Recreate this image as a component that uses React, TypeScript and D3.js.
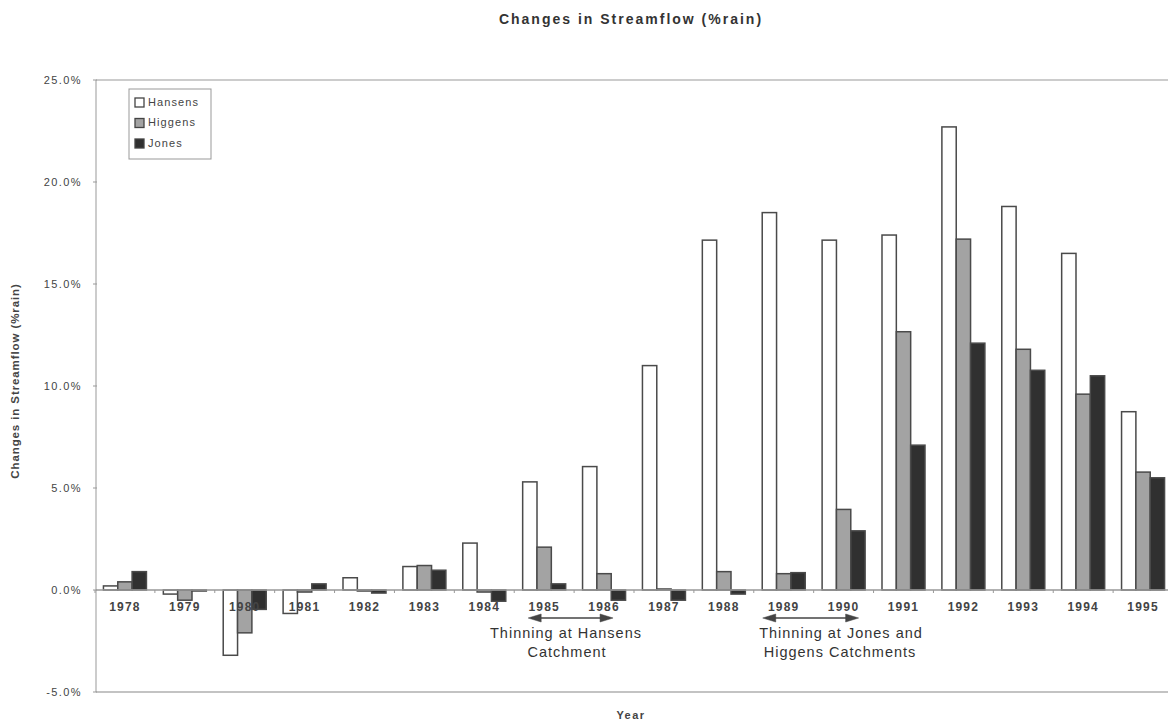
import React from "react";
import * as d3 from "d3";

const years = ["1978","1979","1980","1981","1982","1983","1984","1985","1986","1987","1988","1989","1990","1991","1992","1993","1994","1995"];
const hansens = [0.2,-0.2,-3.2,-1.15,0.6,1.15,2.3,5.3,6.05,11.0,17.15,18.5,17.15,17.4,22.7,18.8,16.5,8.74];
const higgens = [0.4,-0.5,-2.1,-0.1,-0.05,1.2,-0.1,2.1,0.8,0.05,0.9,0.8,3.95,12.66,17.2,11.8,9.6,5.78];
const jones = [0.9,-0.05,-0.95,0.3,-0.15,0.97,-0.55,0.3,-0.5,-0.5,-0.2,0.85,2.9,7.1,12.1,10.77,10.5,5.5];
const seriesNames = ["Hansens","Higgens","Jones"];
const seriesFills = ["#ffffff","#a3a3a3","#303030"];
const yTicks = [-5,0,5,10,15,20,25];

const W = 1168, H = 724;

export default function App() {
  const x = d3.scaleBand<string>().domain(years).range([95, 1173]).paddingInner(0.282).paddingOuter(0.141);
  const xs = d3.scaleBand<string>().domain(seriesNames).range([0, x.bandwidth()]);
  const y = d3.scaleLinear().domain([-5, 25]).range([692, 80]);
  const data = [hansens, higgens, jones];
  const cx = (yr: string) => (x(yr) as number) + x.bandwidth() / 2;
  const step = x.step();
  const font = "'Liberation Sans', Arial, sans-serif";

  const arrow = (x1: number, x2: number, yy: number, key: string) => (
    <g key={key} fill="#444" stroke="#444">
      <line x1={x1 + 8} x2={x2 - 8} y1={yy} y2={yy} strokeWidth={1.6} />
      <path d={`M${x1},${yy} L${x1 + 13},${yy - 4} L${x1 + 13},${yy + 4} Z`} strokeWidth={0.5} />
      <path d={`M${x2},${yy} L${x2 - 13},${yy - 4} L${x2 - 13},${yy + 4} Z`} strokeWidth={0.5} />
    </g>
  );

  return (
    <div style={{ position: "absolute", left: 0, top: 0 }}>
      <svg width={W} height={H} style={{ display: "block", fontFamily: font }}>
        <rect x={0} y={0} width={W} height={H} fill="#fff" />
        <text x={631} y={24} textAnchor="middle" fontSize={14} fontWeight="bold" fill="#333" letterSpacing={2}>
          Changes in Streamflow (%rain)
        </text>
        {/* frame lines */}
        <line x1={96} x2={W} y1={y(25)} y2={y(25)} stroke="#999" strokeWidth={1.2} />
        <line x1={96} x2={W} y1={y(-5)} y2={y(-5)} stroke="#888" strokeWidth={1.2} />
        <line x1={96} x2={96} y1={y(25)} y2={y(-5)} stroke="#aaa" strokeWidth={1.2} />
        {yTicks.map(t => (
          <g key={t}>
            <line x1={93} x2={97} y1={y(t)} y2={y(t)} stroke="#999" />
            <text x={82} y={y(t)} dy="0.35em" textAnchor="end" fontSize={11} fill="#444" letterSpacing={1.4}>
              {t.toFixed(1)}%
            </text>
          </g>
        ))}
        {/* bars */}
        {data.map((vals, si) => (
          <g key={si}>
            {vals.map((v, i) => {
              const bx = (x(years[i]) as number) + (xs(seriesNames[si]) as number);
              const y0 = y(0), y1 = y(v);
              return (
                <rect key={i} x={bx} y={Math.min(y0, y1)} width={xs.bandwidth()} height={Math.abs(y1 - y0)}
                  fill={seriesFills[si]} stroke="#4a4a4a" strokeWidth={1.5} />
              );
            })}
          </g>
        ))}
        {/* zero axis */}
        <line x1={96} x2={W} y1={y(0)} y2={y(0)} stroke="#999" strokeWidth={1.5} />
        {years.map(yr => (
          <line key={"t" + yr} x1={(x(yr) as number) - (step - x.bandwidth()) / 2} x2={(x(yr) as number) - (step - x.bandwidth()) / 2}
            y1={y(0)} y2={y(0) + 3} stroke="#999" />
        ))}
        {years.map(yr => (
          <text key={"l" + yr} x={cx(yr)} y={611} textAnchor="middle" fontSize={12} fontWeight="bold" fill="#444" letterSpacing={1.2}>
            {yr}
          </text>
        ))}
        {/* annotations */}
        {arrow(cx("1985") - 16, cx("1986") + 9, 618, "a1")}
        <text x={566} y={638} textAnchor="middle" fontSize={14.5} fill="#333" letterSpacing={1}>Thinning at Hansens</text>
        <text x={567} y={657} textAnchor="middle" fontSize={14.5} fill="#333" letterSpacing={1}>Catchment</text>
        {arrow(cx("1989") - 21, cx("1990") + 15, 618, "a2")}
        <text x={841} y={638} textAnchor="middle" fontSize={14.5} fill="#333" letterSpacing={1}>Thinning at Jones and</text>
        <text x={840} y={657} textAnchor="middle" fontSize={14.5} fill="#333" letterSpacing={1}>Higgens Catchments</text>
        {/* legend */}
        <rect x={129} y={89} width={82} height={70} fill="#fff" stroke="#999" strokeWidth={1} />
        {seriesNames.map((n, i) => (
          <g key={n}>
            <rect x={135} y={98 + i * 20.5} width={9} height={9} fill={seriesFills[i]} stroke="#444" strokeWidth={1.3} />
            <text x={148} y={102 + i * 20.5} dy="0.35em" fontSize={11} fill="#444" letterSpacing={1.1}>{n}</text>
          </g>
        ))}
        {/* axis titles */}
        <text transform={`translate(19,381) rotate(-90)`} textAnchor="middle" fontSize={11.5} fontWeight="bold" fill="#444" letterSpacing={0.9}>
          Changes in Streamflow (%rain)
        </text>
        <text x={631} y={719} textAnchor="middle" fontSize={11} fontWeight="bold" fill="#444" letterSpacing={1.5}>Year</text>
      </svg>
    </div>
  );
}
